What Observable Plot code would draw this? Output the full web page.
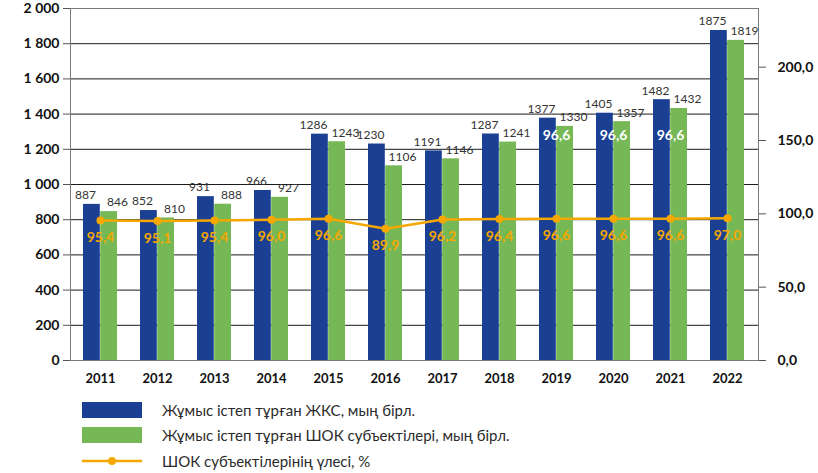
<!DOCTYPE html>
<html><head><meta charset="utf-8">
<script src="https://cdn.jsdelivr.net/npm/d3@7"></script>
<script src="https://cdn.jsdelivr.net/npm/@observablehq/plot@0.6"></script>
<style>
body{margin:0;background:#fff;font-family:Lato, "Open Sans", sans-serif;}
#legend{position:relative;height:81px;width:818px;}
.row{position:absolute;left:82px;display:flex;align-items:center;font-size:15px;color:#2b2b2b;height:20px;}
.sw{width:60px;height:16px;margin-right:20px;position:relative;}
</style></head><body><div id="chart"></div><div id="legend"></div>
<script>
const years = ["2011","2012","2013","2014","2015","2016","2017","2018","2019","2020","2021","2022"];
const zhks = [887, 852, 931, 966, 1286, 1230, 1191, 1287, 1377, 1405, 1482, 1875];
const shok = [846, 810, 888, 927, 1243, 1106, 1146, 1241, 1330, 1357, 1432, 1819];
const share = [95.4, 95.1, 95.4, 96.0, 96.6, 89.9, 96.2, 96.4, 96.6, 96.6, 96.6, 97.0];
const whiteLabelYears = ["2019","2020","2021"];
const leftTicks = [0, 200, 400, 600, 800, 1000, 1200, 1400, 1600, 1800, 2000];
const rightTicks = [0, 50, 100, 150, 200];
const leftMax = 2000, rightMax = 240;
const seriesNames = ["Жұмыс істеп тұрған ЖКС, мың бірл.", "Жұмыс істеп тұрған ШОК субъектілері, мың бірл.", "ШОК субъектілерінің үлесі, %"];

const blue = "#1a3f93", green = "#75b855", orange = "#f6a800";
const loc = d3.formatLocale({decimal: ",", thousands: " ", grouping: [3], currency: ["", ""]});
const fmtL = loc.format(",d");
const fmt1 = loc.format(".1f");
const toLeft = v => v * leftMax / rightMax;
const toRight = v => v * rightMax / leftMax;

const rows = years.map((y, i) => ({year: y, zhks: zhks[i], shok: shok[i], share: share[i], shareY: toLeft(share[i])}));

const W = 818, mL = 70, mR = 60;
const half = (W - mL - mR) / years.length * 0.6 / 2;

const chart = Plot.plot({
  width: W, height: 392,
  marginLeft: mL, marginRight: mR, marginTop: 8, marginBottom: 32,
  style: {fontFamily: "Lato, 'Open Sans', sans-serif", background: "#fff"},
  x: {domain: years, paddingInner: 0.4, paddingOuter: 0.2, label: null},
  y: {domain: [0, leftMax], label: null},
  marks: [
    Plot.gridY(leftTicks, {stroke: "#1a1a1a", strokeOpacity: 1, strokeWidth: 1}),
    Plot.barY(rows, {x: "year", y: "zhks", fill: blue, insetRight: half}),
    Plot.barY(rows, {x: "year", y: "shok", fill: green, insetLeft: half}),
    Plot.text(rows, {x: "year", y: "zhks", text: d => String(d.zhks), dx: -15, dy: -9, fill: "#333", fontSize: 12, letterSpacing: -0.6}),
    Plot.text(rows, {x: "year", y: "shok", text: d => String(d.shok), dx: 17, dy: -9, fill: "#333", fontSize: 12, letterSpacing: -0.6}),
    Plot.line(rows, {x: "year", y: "shareY", stroke: orange, strokeWidth: 2.5}),
    Plot.dot(rows, {x: "year", y: "shareY", r: 4, fill: orange}),
    Plot.text(rows, {x: "year", y: "shareY", text: d => fmt1(d.share), dy: 17, fill: orange, fontSize: 14, fontWeight: "bold", letterSpacing: -0.5}),
    Plot.text(rows.filter(d => whiteLabelYears.includes(d.year)), {x: "year", y: "shareY", text: d => fmt1(d.share), dy: -83, fill: "#fff", fontSize: 14, fontWeight: "bold", letterSpacing: -0.5}),
    Plot.frame({stroke: "#7a7a7a"}),
    Plot.axisY(leftTicks, {anchor: "left", label: null, tickSize: 7, tickPadding: 4, tickFormat: fmtL, fontSize: 14, fontWeight: "bold", stroke: "#555", fill: "#111"}),
    Plot.axisY(rightTicks.map(toLeft), {anchor: "right", label: null, tickSize: 7, tickPadding: 12, tickFormat: v => fmt1(toRight(v)), fontSize: 14, fontWeight: "bold", stroke: "#555", fill: "#111"}),
    Plot.axisX({label: null, tickSize: 0, tickPadding: 13, fontSize: 13, fontWeight: "bold", fill: "#111"})
  ]
});
document.getElementById("chart").appendChild(chart);

const legend = document.getElementById("legend");
const tops = [8, 33, 59];
seriesNames.forEach((name, i) => {
  const row = document.createElement("div");
  row.className = "row";
  row.style.top = tops[i] + "px";
  const sw = document.createElement("div");
  sw.className = "sw";
  if (i === 0) sw.style.background = blue;
  else if (i === 1) sw.style.background = green;
  else {
    sw.style.height = "20px";
    sw.innerHTML = `<svg width="60" height="20"><line x1="0" x2="60" y1="10" y2="10" stroke="${orange}" stroke-width="2.5"/><circle cx="30" cy="10" r="4" fill="${orange}"/></svg>`;
  }
  const t = document.createElement("span");
  t.textContent = name;
  row.appendChild(sw);
  row.appendChild(t);
  legend.appendChild(row);
});
</script></body></html>
